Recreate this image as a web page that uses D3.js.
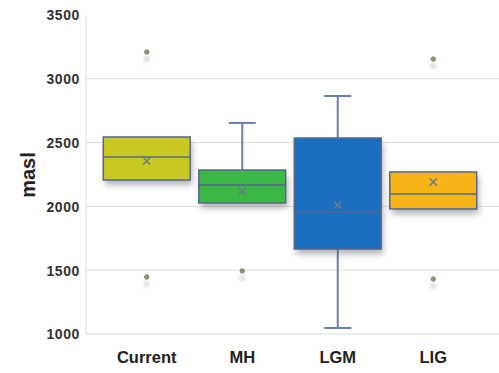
<!DOCTYPE html>
<html><head><meta charset="utf-8">
<script src="https://cdn.jsdelivr.net/npm/d3@7"></script>
<style>body{margin:0;background:#fff}svg{display:block}</style>
</head><body>
<svg id="c" width="499" height="373"></svg>
<script>
const categories = ["Current","MH","LGM","LIG"];
const q1 = [2207, 2027, 1666, 1980];
const median = [2387, 2168, 1956, 2097];
const q3 = [2544, 2285, 2536, 2270];
const whiskerLow = [2207, 2027, 1047, 1980];
const whiskerHigh = [2544, 2654, 2865, 2270];
const means = [2356, 2120, 2011, 2191];
const outliers = [[3210, 1447],[1494],[],[3155, 1431]];
const colors = ["#c9c923","#3bb844","#1b6ec0","#f6b418"];
const yTicks = [1000,1500,2000,2500,3000,3500];

(function(){
const svg = d3.select("#c");
const defs = svg.append("defs");
const f = defs.append("filter").attr("id","sh").attr("x","-20%").attr("y","-20%").attr("width","140%").attr("height","160%");
f.append("feGaussianBlur").attr("stdDeviation",3);
const f2 = defs.append("filter").attr("id","sh2").attr("x","-100%").attr("y","-100%").attr("width","300%").attr("height","300%");
f2.append("feGaussianBlur").attr("stdDeviation",1.5);

const pL = 86, pR = 499, pT = 15, pB = 334;
const y = d3.scaleLinear().domain([1000,3500]).range([pB, pT]);
const x = d3.scaleBand().domain(categories).range([99, 481]).paddingInner(0.09).paddingOuter(0.045);

svg.append("g").selectAll("line").data(yTicks.filter(t=>t<3500)).join("line")
  .attr("x1",pL).attr("x2",pR).attr("y1",d=>y(d)).attr("y2",d=>y(d))
  .attr("stroke","#dcdcdc").attr("stroke-width",1);
svg.append("line").attr("x1",pL).attr("x2",pL).attr("y1",pT).attr("y2",pB).attr("stroke","#dcdcdc");

const ya = svg.append("g").attr("transform",`translate(${pL-6},0)`)
  .call(d3.axisLeft(y).tickValues(yTicks).tickSize(0).tickPadding(0).tickFormat(d3.format("d")));
ya.select(".domain").remove();
ya.selectAll("text").attr("font-family","Liberation Sans, Arial, sans-serif").attr("font-size",14)
  .attr("font-weight","bold").attr("fill","#333").attr("dy","0.35em").attr("letter-spacing","0.6px");

const xa = svg.append("g").attr("transform",`translate(0,${pB})`)
  .call(d3.axisBottom(x).tickSize(0).tickPadding(0));
xa.select(".domain").remove();
xa.selectAll("text").attr("font-family","Liberation Sans, Arial, sans-serif").attr("font-size",16.5)
  .attr("font-weight","bold").attr("fill","#222").attr("dy",null).attr("y",29);

svg.append("text").attr("transform","translate(35,175) rotate(-90)").attr("text-anchor","middle")
  .attr("font-family","Liberation Sans, Arial, sans-serif").attr("font-size",20).attr("font-weight","bold")
  .attr("fill","#222").text("masl");

const g = svg.append("g");
categories.forEach((c,i)=>{
  const x0 = x(c), w = x.bandwidth(), cx = x0 + w/2;
  const cap = 27;
  const wc = "#6b7faa";
  if (whiskerHigh[i] > q3[i]) {
    g.append("line").attr("x1",cx).attr("x2",cx).attr("y1",y(whiskerHigh[i])).attr("y2",y(q3[i])).attr("stroke",wc).attr("stroke-width",2);
    g.append("line").attr("x1",cx-cap/2).attr("x2",cx+cap/2).attr("y1",y(whiskerHigh[i])).attr("y2",y(whiskerHigh[i])).attr("stroke",wc).attr("stroke-width",2);
  }
  if (whiskerLow[i] < q1[i]) {
    g.append("line").attr("x1",cx).attr("x2",cx).attr("y1",y(q1[i])).attr("y2",y(whiskerLow[i])).attr("stroke",wc).attr("stroke-width",2);
    g.append("line").attr("x1",cx-cap/2).attr("x2",cx+cap/2).attr("y1",y(whiskerLow[i])).attr("y2",y(whiskerLow[i])).attr("stroke",wc).attr("stroke-width",2);
  }
  g.append("rect").attr("x",x0+2).attr("y",y(q3[i])+5).attr("width",w).attr("height",y(q1[i])-y(q3[i]))
    .attr("fill","#555").attr("opacity",0.45).attr("filter","url(#sh)");
  g.append("rect").attr("x",x0).attr("y",y(q3[i])).attr("width",w).attr("height",y(q1[i])-y(q3[i]))
    .attr("fill",colors[i]).attr("stroke","#55678f").attr("stroke-width",1.5);
  g.append("line").attr("x1",x0).attr("x2",x0+w).attr("y1",y(median[i])).attr("y2",y(median[i]))
    .attr("stroke","#55678f").attr("stroke-width",1.5);
  const my = y(means[i]), s = 3.5;
  g.append("path").attr("d",`M${cx-s},${my-s}L${cx+s},${my+s}M${cx+s},${my-s}L${cx-s},${my+s}`)
    .attr("stroke","#6b7a8c").attr("stroke-width",1.6);
  outliers[i].forEach(v=>{
    g.append("circle").attr("cx",cx).attr("cy",y(v)+7).attr("r",3).attr("fill","#bbb").attr("opacity",0.5).attr("filter","url(#sh2)");
    g.append("circle").attr("cx",cx).attr("cy",y(v)).attr("r",2.2).attr("fill","#8a9a70").attr("stroke","#7a8a6a").attr("stroke-width",1);
  });
});
})();
</script>
</body></html>
